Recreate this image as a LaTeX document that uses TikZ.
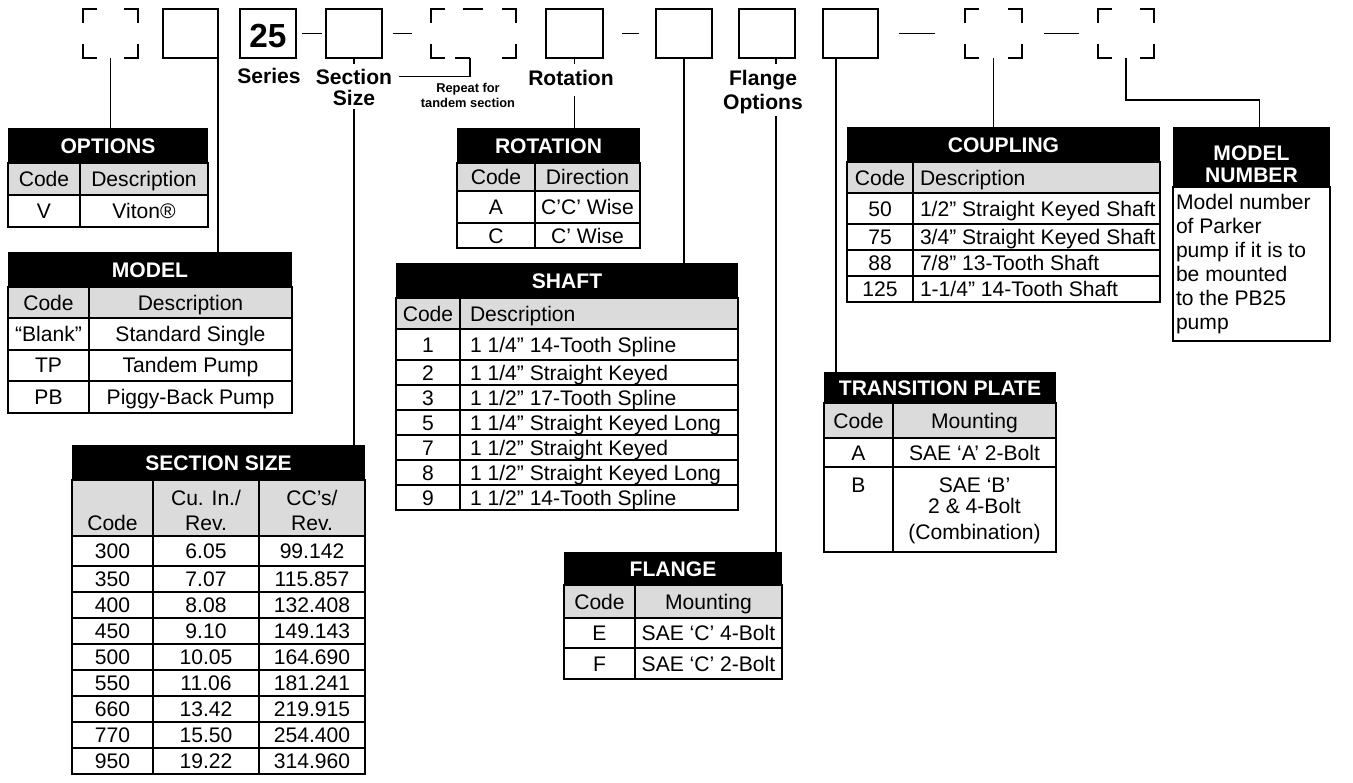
\documentclass[tikz,border=0pt]{standalone}
\usepackage{fontspec}
\setmainfont{Liberation Sans}
\usetikzlibrary{positioning,fit}

\tikzset{
  every node/.style={inner sep=0pt, outer sep=0pt, font=\fontsize{12}{14}\selectfont},
  lw/.style={line width=1.1pt},
  txt/.style={text height=8.6pt, text depth=0pt},
  hdr/.style={fill=black},
  sub/.style={lw, draw, fill=black!14},
  cell/.style={lw, draw, fill=white},
  slot/.style={lw, draw},
  say/.style={label={[txt]center:#1}},
  shout/.style={label={[txt, text=white, font=\fontsize{12}{14}\selectfont\bfseries]center:#1}},
  tag/.style={font=\fontsize{12}{14}\selectfont\bfseries, align=center},
}
% corner brackets of an optional slot
\newcommand\corners[1]{%
  \draw[lw] (#1.north west) ++(0,14) |- ++(14,-14);
  \draw[lw] (#1.north east) ++(-14,0) -| ++(14,14);
  \draw[lw] (#1.south west) ++(0,-14) |- ++(14,14);
  \draw[lw] (#1.south east) ++(-14,0) -| ++(14,-14);}

\begin{document}
\begin{tikzpicture}[x=0.02cm, y=-0.02cm]
\useasboundingbox (0,0) rectangle (1353,783);

% code slots along the top
\node[fit={(83,9)(138,58)}] (optb) {};
\corners{optb}
\node[slot, fit={(163,9)(218,58)}] (mdlb) {};
\node[slot, fit={(240,9)(296,58)}, label={[text height=16.5pt, text depth=0pt, font=\fontsize{19}{22}\selectfont\bfseries]center:25}] (serb) {};
\node[slot, fit={(326,9)(382,58)}] (secb) {};
\node[fit={(431,9)(516,58)}] (tdmb) {};
\corners{tdmb}
\node[slot, fit={(546,9)(603,58)}] (rotb) {};
\node[slot, fit={(656,9)(712,58)}] (shfb) {};
\node[slot, fit={(739,9)(795,58)}] (flgb) {};
\node[slot, fit={(823,9)(878,58)}] (trnb) {};
\node[fit={(965,9)(1022,58)}] (cplb) {};
\corners{cplb}
\node[fit={(1098,9)(1154,58)}] (mnb) {};
\corners{mnb}

\coordinate (tdmt) at (470,58);
\coordinate (flgs) at (776,58);
\coordinate (trns) at (836,58);
\draw[lw] (tdmb.north) ++(-11,0) -- ++(20,0);
\draw[lw] (tdmt) -- ++(-15,0);

% dashes between slots
\draw[lw] (serb.east) ++(6,0) -- ++(20,0);
\draw[lw] (secb.east) ++(11,0) -- ++(19,0);
\draw[lw] (rotb.east) ++(19,0) -- ++(17,0);
\draw[lw] (trnb.east) ++(21,0) -- ++(36,0);
\draw[lw] (cplb.east) ++(22,0) -- ++(35,0);

% slot names
\node[tag] (serl) at (269,76) {Series};
\node[tag] (secl) at (354,76.5) {Section};
\node[tag] (sizl) at (354,97.5) {Size};
\node[tag, anchor=north, font=\fontsize{7.3}{8.5}\selectfont\bfseries] (rptl) at (468,83) {Repeat for\\tandem section};
\node[tag] (rotl) at (571,77.5) {Rotation};
\node[tag, anchor=north] (flgl) at (763,70) {Flange\\Options};

% options
\node[hdr, fit={(8,128)(208,163)}, shout=OPTIONS] (opt) {};
\node[sub, fit={(8,163)(80,195)}, say=Code] (opt-c) {};
\node[sub, fit={(80,163)(208,195)}, say=Description] (opt-d) {};
\node[cell, fit={(8,195)(80,227)}, say=V] (opt-c0) {};
\node[cell, fit={(80,195)(208,227)}, say=Viton®] (opt-d0) {};

% model
\node[hdr, fit={(8,252)(292,287)}, shout=MODEL] (mdl) {};
\node[sub, fit={(8,287)(89,318)}, say=Code] (mdl-c) {};
\node[sub, fit={(89,287)(292,318)}, say=Description] (mdl-d) {};
\foreach \cd/\ds [count=\r from 0] in {“Blank”/Standard Single,TP/Tandem Pump,PB/Piggy-Back Pump}{
  \pgfmathsetmacro\ya{318+31.6*\r}
  \pgfmathsetmacro\yb{\ya+31.6}
  \node[cell, fit={(8,\ya)(89,\yb)}, say=\cd] (mdl-c\r) {};
  \node[cell, fit={(89,\ya)(292,\yb)}, say=\ds] (mdl-d\r) {};
}

% section size
\node[hdr, fit={(72,445)(365,480)}, shout={SECTION SIZE}] (ssz) {};
\node[sub, fit={(72,480)(153,536)}] (ssz-c) {};
\node[sub, fit={(153,480)(259,536)}] (ssz-a) {};
\node[sub, fit={(259,480)(365,536)}] (ssz-b) {};
\node[txt] (ssz-ct) at (112.5,523) {Code};
\node[align=center] (ssz-at) at (206,510.5) {Cu. In./\\Rev.};
\node[align=center] (ssz-bt) at (312,510.5) {CC’s/\\Rev.};
\foreach \cd/\cu/\cc [count=\r from 0] in {300/6.05/99.142,350/7.07/115.857,400/8.08/132.408,450/9.10/149.143,500/10.05/164.690,550/11.06/181.241,660/13.42/219.915,770/15.50/254.400,950/19.22/314.960}{
  \pgfmathsetmacro\ya{\r==0 ? 536 : 540+26*\r}
  \pgfmathsetmacro\yb{566+26*\r}
  \node[cell, fit={(72,\ya)(153,\yb)}, say=\cd] (ssz-c\r) {};
  \node[cell, fit={(153,\ya)(259,\yb)}, say=\cu] (ssz-a\r) {};
  \node[cell, fit={(259,\ya)(365,\yb)}, say=\cc] (ssz-b\r) {};
}

% rotation
\node[hdr, fit={(457,128)(640,163)}, shout=ROTATION] (rot) {};
\node[sub, fit={(457,163)(535,191)}, say=Code] (rot-c) {};
\node[sub, fit={(535,163)(640,191)}, say=Direction] (rot-d) {};
\node[cell, fit={(457,191)(535,223)}, say=A] (rot-c0) {};
\node[cell, fit={(535,191)(640,223)}, say={C’C’ Wise}] (rot-d0) {};
\node[cell, fit={(457,223)(535,248)}, say=C] (rot-c1) {};
\node[cell, fit={(535,223)(640,248)}, say={C’ Wise}] (rot-d1) {};

% shaft
\node[hdr, fit={(396,263)(738,298)}, shout=SHAFT] (shf) {};
\node[sub, fit={(396,298)(460,329)}, say=Code] (shf-c) {};
\node[sub, fit={(460,298)(738,329)}] (shf-d) {};
\node[txt, right=0.2cm of shf-d.west] (shf-dt) {Description};
\foreach \cd/\ds [count=\r from 0] in {1/{1 1/4” 14-Tooth Spline},2/{1 1/4” Straight Keyed},3/{1 1/2” 17-Tooth Spline},5/{1 1/4” Straight Keyed Long},7/{1 1/2” Straight Keyed},8/{1 1/2” Straight Keyed Long},9/{1 1/2” 14-Tooth Spline}}{
  \pgfmathsetmacro\ya{\r==0 ? 329 : 335+25*\r}
  \pgfmathsetmacro\yb{360+25*\r}
  \node[cell, fit={(396,\ya)(460,\yb)}, say=\cd] (shf-c\r) {};
  \node[cell, fit={(460,\ya)(738,\yb)}] (shf-d\r) {};
  \node[txt, right=0.2cm of shf-d\r.west] (shf-t\r) {\ds};
}

% flange
\node[hdr, fit={(564,552)(782,585)}, shout=FLANGE] (flg) {};
\node[sub, fit={(564,585)(635,618)}, say=Code] (flg-c) {};
\node[sub, fit={(635,585)(782,618)}, say=Mounting] (flg-d) {};
\node[cell, fit={(564,618)(635,648)}, say=E] (flg-c0) {};
\node[cell, fit={(635,618)(782,648)}, say={SAE ‘C’ 4-Bolt}] (flg-d0) {};
\node[cell, fit={(564,648)(635,679)}, say=F] (flg-c1) {};
\node[cell, fit={(635,648)(782,679)}, say={SAE ‘C’ 2-Bolt}] (flg-d1) {};

% transition plate
\node[hdr, fit={(824,372)(1056,403)}, shout={TRANSITION PLATE}] (trn) {};
\node[sub, fit={(824,403)(893,438)}, say=Code] (trn-c) {};
\node[sub, fit={(893,403)(1056,438)}, say=Mounting] (trn-d) {};
\node[cell, fit={(824,438)(893,467)}, say=A] (trn-c0) {};
\node[cell, fit={(893,438)(1056,467)}, say={SAE ‘A’ 2-Bolt}] (trn-d0) {};
\node[cell, fit={(824,467)(893,552)}] (trn-c1) {};
\node[cell, fit={(893,467)(1056,552)}] (trn-d1) {};
\node[txt] (trn-ct1) at (858.5,485) {B};
\node[align=center, anchor=north] (trn-dt1) at (974.5,477.5) {SAE ‘B’\\[-2pt]2 \& 4-Bolt\\[0.8pt](Combination)};

% coupling
\node[hdr, fit={(847,127)(1160,162)}, shout=COUPLING] (cpl) {};
\node[sub, fit={(847,162)(913,193)}, say=Code] (cpl-c) {};
\node[sub, fit={(913,162)(1160,193)}] (cpl-d) {};
\node[txt, right=0.14cm of cpl-d.west] (cpl-dt) {Description};
\foreach \cd/\ds [count=\r from 0] in {50/{1/2” Straight Keyed Shaft},75/{3/4” Straight Keyed Shaft},88/{7/8” 13-Tooth Shaft},125/{1-1/4” 14-Tooth Shaft}}{
  \pgfmathsetmacro\ya{\r==0 ? 193 : 198+26*\r}
  \pgfmathsetmacro\yb{224+26*\r}
  \node[cell, fit={(847,\ya)(913,\yb)}, say=\cd] (cpl-c\r) {};
  \node[cell, fit={(913,\ya)(1160,\yb)}] (cpl-d\r) {};
  \node[txt, right=0.14cm of cpl-d\r.west] (cpl-t\r) {\ds};
}

% model number
\node[hdr, fit={(1173,127)(1330,187)}] (mn) {};
\node[align=center, text=white, font=\fontsize{12}{12.5}\selectfont\bfseries] (mn-t) at (1251.5,164) {MODEL\\NUMBER};
\node[cell, fit={(1173,187)(1330,341)}] (mn-b) {};
\node[align=left, anchor=north west, font=\fontsize{12}{13.66}\selectfont] (mn-bt) at (1176,194.5) {Model number\\of Parker\\pump if it is to\\be mounted\\to the PB25\\pump};

% leader lines
\draw[lw] (optb.south) -- (optb.south |- opt.north);
\draw[lw] (mdlb.south east) -- (mdlb.south east |- mdl.north);
\draw[lw] (secb.south) -- ++(0,6);
\draw[lw] (sizl.south) ++(0,4) -- (sizl.south |- ssz.north);
\draw[lw] (secl.east) ++(7,0) -| (tdmt);
\draw[lw] (rotb.south) -- ++(0,6);
\draw[lw] (rotb.south |- rotl.south) ++(0,11) -- (rotb.south |- rot.north);
\draw[lw] (shfb.south) -- (shfb.south |- shf.north);
\draw[lw] (flgs) -- ++(0,6);
\draw[lw] (flgs |- flgl.south) ++(0,2) -- (flgs |- flg.north);
\draw[lw] (trns) -- (trns |- trn.north);
\draw[lw] (cplb.south) -- (cplb.south |- cpl.north);
\draw[lw] (mnb.south) -- ++(0,42) -| ([xshift=0.16cm]mn.north);
\end{tikzpicture}
\end{document}
